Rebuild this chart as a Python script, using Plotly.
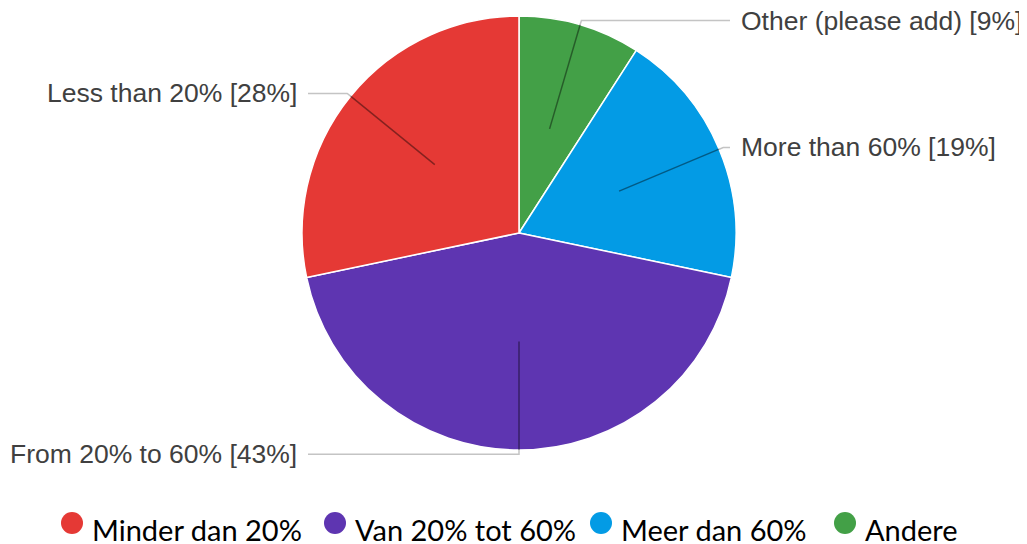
import math
import plotly.graph_objects as go

# data, in legend order
legend_names = ["Minder dan 20%", "Van 20% tot 60%", "Meer dan 60%", "Andere"]
label_names = ["Less than 20%", "From 20% to 60%", "More than 60%", "Other (please add)"]
shares = [28, 43, 19, 9]
colors = ["#E53935", "#5E35B1", "#039BE5", "#43A047"]

# the page body has an 8px margin, so the figure is drawn 8px in from the corner
OFF = 8
W, H = 1027 - OFF, 544 - OFF
cx, cy, R = 519, 233, 217

fig = go.Figure()

# clockwise from 12 o'clock: Andere, Meer, Van, Minder
pie_names = legend_names[::-1]
pie_vals = shares[::-1]
pie_cols = colors[::-1]
fig.add_trace(go.Pie(
    values=pie_vals,
    labels=pie_names,
    sort=False,
    direction="clockwise",
    rotation=0,
    marker=dict(colors=pie_cols, line=dict(color="white", width=1.5)),
    textinfo="none",
    showlegend=False,
    domain=dict(x=[(cx - R - OFF) / W, (cx + R - OFF) / W],
                y=[1 - (cy + R - OFF) / H, 1 - (cy - R - OFF) / H]),
))

# leader lines + outside labels
shapes = []
annotations = []
total = sum(pie_vals)
cum = 0
for name, v in zip(label_names[::-1], pie_vals):
    m = (cum + v / 2) / total
    cum += v
    th = 2 * math.pi * m
    dx, dy = math.sin(th), -math.cos(th)
    side = 1 if dx > 1e-6 else -1
    x0, y0 = cx + 0.5 * R * dx, cy + 0.5 * R * dy
    xe, ye = cx + R * dx, cy + R * dy
    x1, y1 = cx + 1.02 * R * dx, cy + 1.02 * R * dy
    x2 = cx + side * 211
    shapes.append(dict(
        type="path", xref="x", yref="y", layer="above",
        path=f"M {xe:.1f},{ye:.1f} L {x1:.1f},{y1:.1f} L {x2:.1f},{y1:.1f}",
        line=dict(color="#c4c4c4", width=1.5),
    ))
    shapes.append(dict(
        type="line", xref="x", yref="y", layer="above",
        x0=x0, y0=y0, x1=xe, y1=ye,
        line=dict(color="rgba(0,0,0,0.42)", width=1.5),
    ))
    annotations.append(dict(
        x=cx + side * 221, y=y1, xref="x", yref="y",
        text=f"{name} [{v}%]", showarrow=False, borderpad=0,
        xanchor="left" if side > 0 else "right", yanchor="middle",
        font=dict(family="Liberation Sans, Arial", size=26.5, color="#404040"),
    ))

# legend at the bottom
leg_x = [72, 335, 601, 845]
leg_y = 523
fig.add_trace(go.Scatter(
    x=leg_x, y=[leg_y] * len(leg_x), mode="markers",
    marker=dict(size=22, color=colors, line=dict(width=0)),
    showlegend=False, hoverinfo="skip",
))
for lx, name in zip(leg_x, legend_names):
    annotations.append(dict(
        x=lx + 19, y=leg_y + 6, xref="x", yref="y",
        text=name, showarrow=False, borderpad=0,
        xanchor="left", yanchor="middle",
        font=dict(family="Lato", size=29, color="black"),
    ))

fig.update_layout(
    width=W, height=H,
    margin=dict(l=0, r=0, t=0, b=0),
    paper_bgcolor="white", plot_bgcolor="white",
    xaxis=dict(range=[OFF, 1027], visible=False, fixedrange=True),
    yaxis=dict(range=[544, OFF], visible=False, fixedrange=True),
    shapes=shapes,
    annotations=annotations,
    showlegend=False,
)

fig.write_html("out.html")
